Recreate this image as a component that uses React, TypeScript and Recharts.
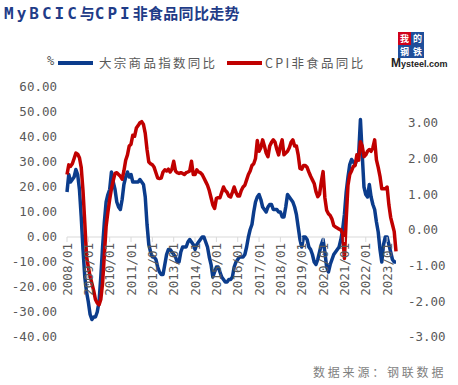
import React from "react";
import { LineChart, Line, XAxis, YAxis, ReferenceLine } from "recharts";

// ---- data ----
const startYear = 2008;
const monthCount = 186; // 2008/01 .. 2023/06
const months: string[] = [];
for (let i = 0; i < monthCount; i++) {
  const y = startYear + Math.floor(i / 12);
  const m = (i % 12) + 1;
  months.push(`${y}/${m < 10 ? "0" + m : m}`);
}

// 大宗商品指数同比 (%), left axis
const bcicYoY: number[] = [
  18, 25, 22, 23, 24, 27, 25, 19, 8, -5, -16, -22,
  -26, -31, -33, -32, -32, -30, -26, -16, -4, 6, 14, 17,
  19, 26, 22, 19, 14, 12, 11, 15, 21, 24, 26, 24,
  25, 22, 22, 22, 22, 23, 22, 21, 16, 5, -3, -6,
  -8, -8, -9, -12, -14, -15, -15, -11, -7, -5, -5, -6,
  -7, -8, -10, -10, -6, -4, -4, -4, -2, -1, -2, -3,
  -5, -3, -2, -1, 0, 0, -2, -4, -8, -11, -16, -14,
  -12, -12, -14, -16, -17, -18, -18, -17, -17, -16, -12, -10,
  -9, -8, -8, -8, -7, -4, 0, 3, 5, 10, 14, 16,
  17, 15, 12, 11, 10, 12, 13, 13, 11, 11, 11, 10,
  10, 8, 8, 12, 17, 16, 15, 14, 12, 9, 4, -1,
  -4, 0, 0, -1, -4, -5, -7, -10, -11, -9, -6, -3,
  -1, -6, -12, -14, -11, -9, -7, -6, -5, -4, -1, 3,
  9, 18, 24, 29, 31, 30, 29, 31, 33, 47, 33, 20,
  17, 16, 21, 16, 13, 11, 6, 2, -5, -10, -3, 0,
  0, -3, -6, -9, -10, -10,
];

// CPI非食品同比 (%), right axis
const cpiNonFoodYoY: number[] = [
  1.55, 1.82, 1.78, 1.85, 2.0, 2.15, 2.12, 2.02, 1.75, 1.1, 0.2, -0.75,
  -1.05, -1.3, -1.5, -1.7, -1.95, -2.05, -2.1, -1.95, -1.5, -0.7, 0.1, 0.5,
  0.85, 1.15, 1.38, 1.58, 1.6, 1.55, 1.5, 1.42, 1.65, 1.95, 2.1, 2.35,
  2.4, 2.65, 2.62, 2.85, 2.92, 3.0, 3.03, 2.95, 2.7, 2.25, 1.9, 1.85,
  1.82, 1.75, 1.6, 1.45, 1.44, 1.45, 1.62, 1.68, 1.65, 1.7, 1.62, 1.7,
  1.92, 1.65, 1.6, 1.58, 1.6, 1.58, 1.55, 1.6, 1.62, 1.65, 1.92, 1.55,
  1.55, 1.68, 1.62, 1.6, 1.55, 1.45, 1.35, 1.25, 1.1, 0.9, 0.7, 0.6,
  0.88, 0.9, 0.9, 1.05, 1.2, 1.1, 1.05, 0.95, 0.92, 1.05, 1.2, 1.05,
  0.95, 0.95, 1.1, 1.2, 1.25, 1.4, 1.55, 1.65, 1.8, 1.85, 2.0, 2.5,
  2.2, 2.3, 2.52, 2.35, 2.15, 2.05, 2.35, 2.45, 2.52, 2.45, 2.25, 2.1,
  2.35, 2.52, 2.1, 2.15, 2.2, 2.3, 2.45, 2.52, 2.35, 2.35, 2.1, 1.72,
  1.7, 1.8, 1.8, 1.75, 1.62, 1.5, 1.4, 1.3, 1.07, 0.93, 1.0, 1.35,
  1.63, 0.9, 0.55, 0.45, 0.4, 0.3, 0.12, 0.08, 0.05, 0.02, 0.0, -0.1,
  -0.8, 0.3, 1.25, 1.55, 1.65, 1.78, 1.8, 2.1, 1.95, 2.47, 2.35, 2.05,
  2.1, 2.2, 2.25, 2.2, 2.3, 2.52, 1.96, 1.75, 1.5, 1.15, 1.15, 1.15,
  1.2, 0.7, 0.35, 0.15, -0.05, -0.6,
];

const leftTicks = [-40, -30, -20, -10, 0, 10, 20, 30, 40, 50, 60];
const rightTicks = [-3, -2, -1, 0, 1, 2, 3];

const data = months.map((m, i) => ({
  month: m,
  bcic: bcicYoY[i],
  cpi: cpiNonFoodYoY[i],
}));

// ---- layout / style ----
const W = 458;
const H = 385;
const PLOT_TOP = 87;
const PLOT_H = 250;
const LEFT_MAX = 60;
const LEFT_MIN = -40;
const ZERO_Y = PLOT_TOP + (PLOT_H * LEFT_MAX) / (LEFT_MAX - LEFT_MIN);
const BLUE = "#0B3C8C";
const RED = "#C00000";
const GRAY = "#595959";
const MONO = "'DejaVu Sans Mono', monospace";
const CJK = "'Noto Sans CJK SC', sans-serif";

const XTick = (props: any) => {
  const { x, payload } = props;
  return (
    <g>
      <line x1={x} x2={x} y1={ZERO_Y} y2={ZERO_Y + 5} stroke="#d9d9d9" strokeWidth={1} />
      <text
        x={0}
        y={0}
        transform={`translate(${x},${ZERO_Y + 6}) rotate(-90)`}
        textAnchor="end"
        dominantBaseline="central"
        fontSize={12.5}
        fontFamily={MONO}
        fill={GRAY}
      >
        {payload.value}
      </text>
    </g>
  );
};

const tickStyle = { fontSize: 12.5, fontFamily: MONO, fill: GRAY };

const logoCell = (ch: string, left: number, top: number, bg: string) => (
  <div
    style={{
      position: "absolute",
      left,
      top,
      width: 13,
      height: 13,
      background: bg,
      overflow: "hidden",
      display: "flex",
      alignItems: "center",
      justifyContent: "center",
      fontSize: 9,
      lineHeight: "9px",
    }}
  >
    {ch}
  </div>
);

export default function App() {
  return (
    <div style={{ position: "absolute", left: 0, top: 0, width: W, height: H, background: "#fff", overflow: "hidden" }}>
      {/* title */}
      <div style={{ position: "absolute", left: 4, top: 3, fontWeight: 700, fontSize: 15, color: "#1F3C88", whiteSpace: "nowrap", lineHeight: "20px" }}>
        <span style={{ fontFamily: MONO, fontSize: 16, letterSpacing: 3 }}>MyBCIC</span>
        <span style={{ fontFamily: CJK }}>与</span>
        <span style={{ fontFamily: MONO, fontSize: 16, letterSpacing: 3 }}>CPI</span>
        <span style={{ fontFamily: CJK, letterSpacing: 0.3 }}>非食品同比走势</span>
      </div>

      {/* logo */}
      <div style={{ position: "absolute", left: 398, top: 32, width: 26, height: 26, fontFamily: CJK, fontWeight: 700, color: "#fff" }}>
        {logoCell("我", 0, 0, "#D0021B")}
        {logoCell("的", 13, 0, "#1F4E9A")}
        {logoCell("钢", 0, 13, "#1F4E9A")}
        {logoCell("铁", 13, 13, "#1F4E9A")}
      </div>
      <div style={{ position: "absolute", left: 391, top: 58, fontFamily: "'Liberation Sans', Arial, sans-serif", fontSize: 9, lineHeight: "11px", fontWeight: 700, color: "#222", whiteSpace: "nowrap" }}>
        <span style={{ fontSize: 12 }}>M</span>ysteel.com
      </div>

      {/* legend */}
      <div style={{ position: "absolute", left: 47, top: 54, fontFamily: MONO, fontSize: 12, color: GRAY }}>%</div>
      <div style={{ position: "absolute", left: 58, top: 61, width: 35, height: 3.5, background: BLUE }} />
      <div style={{ position: "absolute", left: 99, top: 53, fontFamily: CJK, fontSize: 12.5, letterSpacing: 2.3, color: GRAY, whiteSpace: "nowrap" }}>大宗商品指数同比</div>
      <div style={{ position: "absolute", left: 227, top: 61, width: 35, height: 3.5, background: RED }} />
      <div style={{ position: "absolute", left: 265, top: 53, fontFamily: CJK, fontSize: 12.5, letterSpacing: 2.3, color: GRAY, whiteSpace: "nowrap" }}>CPI非食品同比</div>

      {/* footer */}
      <div style={{ position: "absolute", left: 313, top: 363, fontFamily: CJK, fontSize: 12, letterSpacing: 2.8, color: "#7F7F7F", whiteSpace: "nowrap" }}>数据来源：钢联数据</div>

      <div style={{ position: "absolute", left: 0, top: 0 }}>
        <LineChart width={W} height={H} data={data} margin={{ top: PLOT_TOP, right: 0, bottom: H - PLOT_TOP - PLOT_H - 30, left: 0 }}>
          <XAxis
            dataKey="month"
            interval={11}
            axisLine={false}
            tickLine={false}
            tick={<XTick />}
            height={30}
            padding={{ left: 0, right: 0 }}
          />
          <YAxis
            yAxisId="left"
            orientation="left"
            width={67}
            domain={[LEFT_MIN, LEFT_MAX]}
            ticks={leftTicks}
            tickFormatter={(v: number) => v.toFixed(2)}
            axisLine={false}
            tickLine={false}
            tickSize={0}
            tickMargin={10}
            tick={tickStyle}
            interval={0}
          />
          <YAxis
            yAxisId="right"
            orientation="right"
            width={62}
            domain={[-3, 4]}
            ticks={rightTicks}
            tickFormatter={(v: number) => v.toFixed(2)}
            axisLine={false}
            tickLine={false}
            tickSize={0}
            tickMargin={12}
            tick={tickStyle}
            interval={0}
          />
          <ReferenceLine yAxisId="left" y={0} stroke="#d9d9d9" strokeWidth={1} />
          <Line
            yAxisId="left"
            type="linear"
            dataKey="bcic"
            stroke={BLUE}
            strokeWidth={3.5}
            dot={false}
            isAnimationActive={false}
            strokeLinejoin="round"
          />
          <Line
            yAxisId="right"
            type="linear"
            dataKey="cpi"
            stroke={RED}
            strokeWidth={3.5}
            dot={false}
            isAnimationActive={false}
            strokeLinejoin="round"
          />
        </LineChart>
      </div>
    </div>
  );
}
